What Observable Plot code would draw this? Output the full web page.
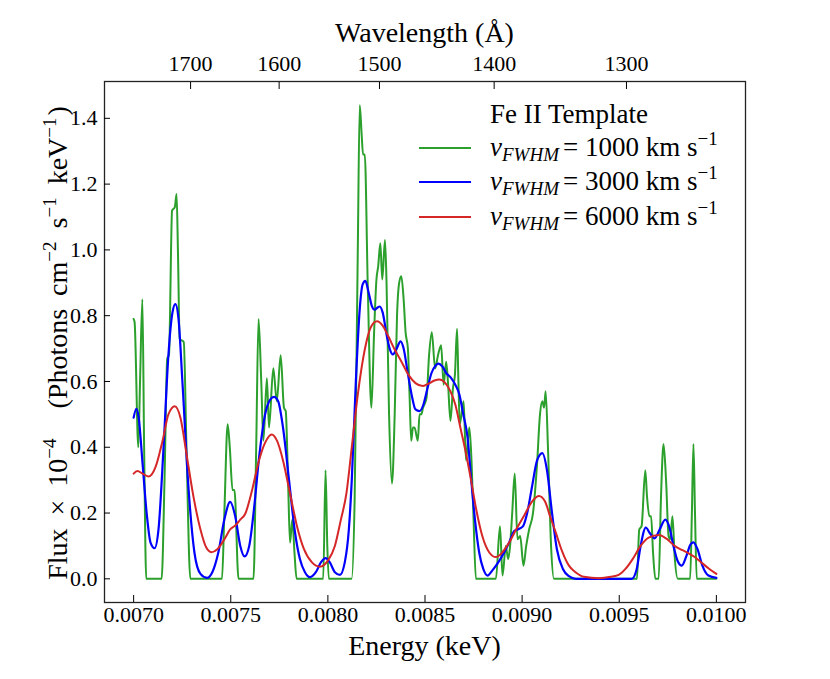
<!DOCTYPE html>
<html>
<head>
<meta charset="utf-8">
<script src="https://cdn.jsdelivr.net/npm/d3@7"></script>
<script src="https://cdn.jsdelivr.net/npm/@observablehq/plot@0.6"></script>
<style>
  body { margin: 0; background: #fff; }
  #chart svg { display: block; }
</style>
</head>
<body>
<div id="chart"></div>
<script>
// ---------- data ----------
// v_FWHM = 1000 km/s (green)
const energy1000 = [
  0.007000,0.007005,0.007024,0.007033,0.007045,0.007054,0.007065,0.007144,0.007159,0.007173,0.007182,0.007198,0.007212,0.007221,0.007228,0.007237,0.007258,0.007272,0.007292,
  0.007455,0.007467,0.007484,0.007495,0.007509,0.007519,0.007540,0.007617,0.007631,0.007643,0.007657,0.007668,0.007686,0.007697,0.007719,0.007737,0.007757,0.007774,0.007783,0.007795,0.007805,0.007817,0.007828,0.007839,0.007976,0.007988,0.007997,0.008005,
  0.008122,0.008138,0.008154,0.008164,0.008174,0.008181,0.008190,0.008205,0.008224,0.008238,0.008250,0.008259,0.008270,0.008280,0.008294,0.008302,0.008315,0.008330,0.008344,0.008356,0.008367,0.008378,0.008390,0.008400,0.008412,0.008421,0.008429,0.008438,0.008446,0.008463,0.008472,0.008481,0.008490,0.008497,0.008508,0.008521,0.008535,0.008552,0.008567,0.008583,0.008596,0.008609,0.008618,0.008631,0.008644,0.008654,0.008665,0.008672,0.008679,0.008699,0.008711,0.008728,0.008737,0.008749,0.008762,
  0.008865,0.008886,0.008899,0.008916,0.008928,0.008938,0.008949,0.008962,0.008976,0.008990,0.009007,0.009021,0.009036,0.009056,0.009077,0.009092,0.009104,0.009113,0.009121,0.009133,0.009149,0.009164,
  0.009591,0.009603,0.009615,0.009634,0.009643,0.009655,0.009664,0.009674,0.009686,0.009703,0.009715,0.009728,0.009741,0.009754,0.009762,0.009774,0.009785,0.009802,0.009865,0.009874,0.009882,0.009890,0.009899,0.010000
];
const flux1000 = [
  0.79,0.78,0.40,0.60,0.85,0.40,0.00,0.00,0.30,0.67,0.68,1.12,1.13,1.17,1.00,0.73,0.72,0.40,0.00,
  0.00,0.20,0.47,0.40,0.27,0.27,0.00,0.00,0.40,0.79,0.60,0.42,0.61,0.46,0.64,0.54,0.68,0.52,0.51,0.30,0.11,0.18,0.08,0.00,0.00,0.33,0.10,0.00,
  0.00,0.25,1.00,1.44,1.35,1.29,1.29,0.90,0.52,0.75,0.91,0.95,1.02,0.91,1.03,0.90,0.50,0.29,0.50,0.80,0.90,0.92,0.85,0.75,0.70,0.55,0.42,0.46,0.46,0.42,0.50,0.50,0.52,0.53,0.55,0.68,0.75,0.64,0.68,0.71,0.59,0.66,0.60,0.48,0.58,0.62,0.76,0.60,0.47,0.54,0.36,0.46,0.39,0.20,0.00,
  0.00,0.16,0.01,0.10,0.06,0.10,0.20,0.32,0.12,0.13,0.04,0.10,0.15,0.20,0.35,0.50,0.54,0.52,0.57,0.40,0.10,0.00,
  0.00,0.15,0.16,0.33,0.25,0.19,0.19,0.08,0.00,0.00,0.25,0.41,0.30,0.13,0.12,0.19,0.07,0.00,0.00,0.20,0.41,0.20,0.00,0.00
];

// v_FWHM = 3000 km/s (blue)
const energy3000 = [
  0.007000,0.007014,0.007026,0.007046,0.007067,0.007087,0.007108,0.007128,0.007154,0.007179,
  0.007200,0.007215,0.007231,0.007251,0.007282,0.007313,0.007344,0.007378,0.007405,0.007436,
  0.007467,0.007497,0.007523,0.007549,0.007571,0.007595,0.007621,0.007646,0.007677,0.007703,
  0.007723,0.007744,0.007769,0.007800,0.007831,0.007856,0.007882,0.007908,0.007938,0.007964,
  0.007988,0.008010,0.008036,0.008062,0.008087,0.008108,0.008123,0.008144,0.008164,0.008179,
  0.008193,0.008210,0.008226,0.008241,0.008256,0.008267,0.008282,0.008303,0.008318,0.008335,
  0.008354,0.008374,0.008390,0.008410,0.008431,0.008451,0.008472,0.008492,0.008513,0.008533,
  0.008554,0.008569,0.008590,0.008610,0.008634,0.008656,0.008677,0.008697,0.008719,0.008738,
  0.008759,0.008779,0.008800,0.008822,0.008846,0.008877,0.008908,0.008933,0.008959,0.008985,
  0.009005,0.009026,0.009051,0.009077,0.009104,0.009128,0.009154,0.009179,0.009210,0.009241,
  0.009277,0.009564,0.009590,0.009610,0.009637,0.009656,0.009682,0.009708,0.009737,0.009759,
  0.009779,0.009800,0.009822,0.009846,0.009867,0.009882,0.009903,0.009928,0.009959,0.010000
];
const flux3000 = [
  0.49,0.517,0.49,0.35,0.20,0.11,0.093,0.15,0.40,0.68,
  0.81,0.835,0.79,0.60,0.28,0.08,0.015,0.003,0.02,0.08,
  0.18,0.234,0.19,0.10,0.068,0.10,0.22,0.37,0.50,0.545,
  0.553,0.54,0.46,0.30,0.14,0.06,0.02,0.005,0.02,0.05,
  0.063,0.05,0.02,0.012,0.05,0.15,0.30,0.60,0.82,0.895,
  0.906,0.87,0.83,0.818,0.825,0.828,0.81,0.74,0.70,0.682,
  0.70,0.722,0.70,0.63,0.56,0.515,0.51,0.53,0.58,0.625,
  0.648,0.654,0.645,0.625,0.611,0.59,0.56,0.50,0.43,0.30,
  0.17,0.08,0.03,0.01,0.025,0.05,0.081,0.11,0.145,0.152,
  0.16,0.20,0.28,0.36,0.382,0.33,0.20,0.09,0.03,0.008,
  0.0,0.0,0.03,0.10,0.156,0.14,0.123,0.15,0.18,0.155,
  0.10,0.055,0.04,0.07,0.105,0.111,0.09,0.04,0.01,0.003
];

// v_FWHM = 6000 km/s (red)
const energy6000 = [
  0.007000,0.007019,0.007046,0.007078,0.007113,0.007149,0.007179,0.007212,0.007241,0.007272,
  0.007308,0.007344,0.007374,0.007400,0.007431,0.007467,0.007497,0.007523,0.007549,0.007574,
  0.007610,0.007641,0.007677,0.007711,0.007738,0.007769,0.007805,0.007841,0.007877,0.007918,
  0.007959,0.008001,0.008036,0.008067,0.008095,0.008123,0.008154,0.008190,0.008221,0.008253,
  0.008282,0.008313,0.008344,0.008379,0.008415,0.008451,0.008489,0.008523,0.008549,0.008574,
  0.008605,0.008631,0.008656,0.008682,0.008708,0.008737,0.008764,0.008795,0.008831,0.008865,
  0.008897,0.008933,0.008969,0.009010,0.009051,0.009087,0.009118,0.009144,0.009173,0.009205,
  0.009241,0.009275,0.009318,0.009395,0.009456,0.009497,0.009532,0.009569,0.009610,0.009651,
  0.009703,0.009743,0.009785,0.009826,0.009856,0.009892,0.009928,0.009964,0.010000
];
const flux6000 = [
  0.32,0.328,0.32,0.311,0.34,0.42,0.50,0.525,0.49,0.38,
  0.25,0.15,0.095,0.081,0.09,0.12,0.15,0.162,0.18,0.197,
  0.27,0.35,0.414,0.439,0.42,0.36,0.26,0.16,0.09,0.05,
  0.037,0.056,0.10,0.18,0.258,0.40,0.56,0.697,0.765,0.783,
  0.77,0.735,0.697,0.66,0.62,0.595,0.586,0.595,0.603,0.606,
  0.595,0.57,0.53,0.46,0.39,0.30,0.21,0.13,0.08,0.066,
  0.08,0.11,0.15,0.192,0.235,0.252,0.235,0.19,0.141,0.085,
  0.04,0.02,0.006,0.002,0.006,0.012,0.03,0.06,0.10,0.125,
  0.133,0.122,0.10,0.087,0.078,0.065,0.047,0.03,0.015
];

// ticks
const energyTicks = [0.0070, 0.0075, 0.0080, 0.0085, 0.0090, 0.0095, 0.0100];
const fluxTicks = [0.0, 0.2, 0.4, 0.6, 0.8, 1.0, 1.2, 1.4];
const wavelengthTicks = [1700, 1600, 1500, 1400, 1300];
const HC = 12.39842; // keV * Angstrom

const seriesNames = ["1000", "3000", "6000"];
const seriesColors = ["#2ca02c", "#0000ff", "#d62728"];

// ---------- build tables ----------
const toRows = (E, F) => E.map((e, i) => ({E: e, F: F[i]}));
const rows1000 = toRows(energy1000, flux1000);
const rows3000 = toRows(energy3000, flux3000);
const rows6000 = toRows(energy6000, flux6000);

const FONT = "'Liberation Serif', 'Times New Roman', serif";

const plot = Plot.plot({
  width: 830,
  height: 679,
  marginLeft: 104,
  marginRight: 85,
  marginTop: 81,
  marginBottom: 77,
  style: {fontFamily: FONT, fontSize: "22px", background: "white", color: "black", overflow: "visible"},
  x: {domain: [0.00685, 0.01015]},
  y: {domain: [-0.072, 1.512]},
  marks: [
    Plot.lineY(rows1000, {x: "E", y: "F", stroke: seriesColors[0], strokeWidth: 2, curve: "monotone-x"}),
    Plot.lineY(rows3000, {x: "E", y: "F", stroke: seriesColors[1], strokeWidth: 2.2, curve: "monotone-x"}),
    Plot.lineY(rows6000, {x: "E", y: "F", stroke: seriesColors[2], strokeWidth: 2, curve: "monotone-x"}),
    Plot.frame({stroke: "#222", strokeWidth: 1.3}),
    Plot.axisX(energyTicks, {anchor: "bottom", tickSize: -7, tickPadding: 11, tickFormat: d => d.toFixed(4), label: null}),
    Plot.axisX(wavelengthTicks.map(l => HC / l), {anchor: "top", tickSize: -7, tickPadding: 18, tickFormat: d => String(Math.round(HC / d / 10) * 10), label: null}),
    Plot.axisY(fluxTicks, {anchor: "left", tickSize: -6, tickPadding: 13, tickFormat: d => d.toFixed(1), label: null})
  ]
});

document.getElementById("chart").appendChild(plot);

// ---------- labels and legend (real SVG text) ----------
const svg = d3.select(plot);
const ann = svg.append("g").attr("font-family", FONT).attr("fill", "black").attr("text-anchor", "start");

function richText(g, parts, attrs) {
  const t = g.append("text");
  Object.entries(attrs).forEach(([k, v]) => t.attr(k, v));
  let shift = 0;
  parts.forEach(p => {
    const s = t.append("tspan").text(p.t);
    if (p.italic) s.attr("font-style", "italic");
    if (p.size) s.attr("font-size", p.size);
    const target = p.shift || 0;
    if (target !== shift) { s.attr("dy", target - shift); shift = target; }
    if (p.dx) s.attr("dx", p.dx);
  });
  return t;
}

// top axis title
ann.append("text").attr("x", 424.5).attr("y", 42).attr("text-anchor", "middle")
  .attr("font-size", 28).text("Wavelength (Å)");
// bottom axis title
ann.append("text").attr("x", 424.5).attr("y", 655).attr("text-anchor", "middle")
  .attr("font-size", 28).text("Energy (keV)");
// y axis title
richText(ann, [
  {t: "Flux"},
  {t: "×", dx: 13},
  {t: "10", dx: 13},
  {t: "−4", size: 19, shift: -11},
  {t: "(Photons", dx: 30},
  {t: "cm", dx: 13},
  {t: "−2", size: 19, shift: -11},
  {t: "s", dx: 13},
  {t: "−1", size: 19, shift: -11},
  {t: "keV", dx: 13},
  {t: "−1", size: 19, shift: -11},
  {t: ")", dx: 2}
], {transform: "translate(67,343) rotate(-90)", "text-anchor": "middle", "font-size": 28});

// legend
ann.append("text").attr("x", 490).attr("y", 123).attr("font-size", 27).text("Fe II Template");
const legendY = [148, 182, 217];
seriesNames.forEach((name, i) => {
  ann.append("line").attr("x1", 419).attr("x2", 471)
    .attr("y1", legendY[i]).attr("y2", legendY[i])
    .attr("stroke", seriesColors[i]).attr("stroke-width", 2);
  richText(ann, [
    {t: "v", italic: true},
    {t: "FWHM", italic: true, size: 19, shift: 5},
    {t: "= " + name + " km s", dx: 4},
    {t: "−1", size: 19, shift: -11}
  ], {x: 490, y: legendY[i] + 8, "font-size": 27});
});
</script>
</body>
</html>
